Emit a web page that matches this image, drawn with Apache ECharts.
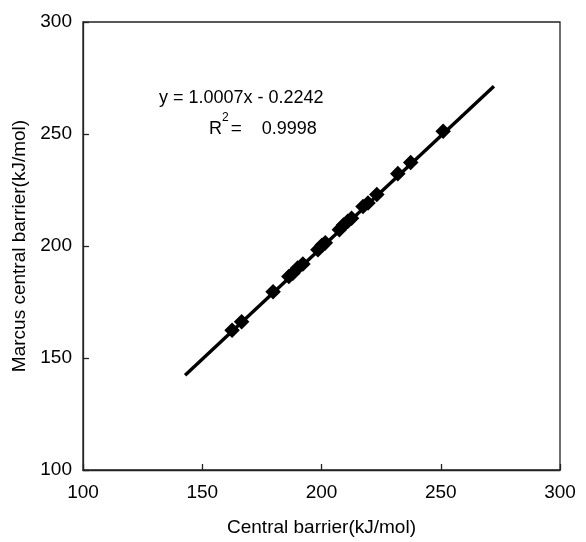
<!DOCTYPE html>
<html>
<head>
<meta charset="utf-8">
<script src="https://cdn.jsdelivr.net/npm/echarts@6/dist/echarts.min.js"></script>
<style>html,body{margin:0;padding:0;background:#fff}#c{width:586px;height:542px}</style>
</head>
<body>
<div id="c"></div>
<script>
var centralBarrier = [162.5, 166.5, 179.7, 186.3, 188.0, 190.0, 192.2, 198.5, 200.2, 201.6, 207.5, 209.2, 211.0, 212.6, 217.4, 219.5, 223.2, 232.0, 237.4, 251.0];
var marcusBarrier  = [162.4, 166.2, 179.6, 186.4, 187.8, 190.2, 192.0, 198.3, 200.3, 201.4, 207.3, 209.4, 211.0, 212.4, 217.6, 219.2, 223.0, 232.3, 237.3, 251.2];
var fitX = [142.8, 272.3];
var fitY = [142.3, 271.3];
var xTicks = [100, 150, 200, 250, 300];
var yTicks = [100, 150, 200, 250, 300];
var equationText = 'y = 1.0007x - 0.2242';
var r2Text = '0.9998';

var chart = echarts.init(document.getElementById('c'), null, {renderer: 'canvas'});
var font = '"Liberation Sans", Arial, sans-serif';
var pts = centralBarrier.map(function (v, i) { return [v, marcusBarrier[i]]; });
var fit = fitX.map(function (v, i) { return [v, fitY[i]]; });

chart.setOption({
  animation: false,
  backgroundColor: '#fff',
  grid: {left: 83, right: 26, top: 22, bottom: 71, show: true, borderColor: '#222', borderWidth: 1.3, backgroundColor: 'transparent'},
  xAxis: {
    type: 'value', min: xTicks[0], max: xTicks[xTicks.length - 1], interval: 50,
    name: 'Central barrier(kJ/mol)', nameLocation: 'middle', nameGap: 48,
    nameTextStyle: {fontFamily: font, fontSize: 19, color: '#000'},
    axisLine: {show: true, lineStyle: {color: '#222', width: 1.3}},
    axisTick: {show: true, inside: true, length: 6, lineStyle: {color: '#222', width: 1.3}},
    axisLabel: {fontFamily: font, fontSize: 19, color: '#000', margin: 13},
    splitLine: {show: false}
  },
  yAxis: {
    type: 'value', min: yTicks[0], max: yTicks[yTicks.length - 1], interval: 50,
    name: 'Marcus central barrier(kJ/mol)', nameLocation: 'middle', nameGap: 54, nameRotate: 90,
    nameTextStyle: {fontFamily: font, fontSize: 19, color: '#000'},
    axisLine: {show: true, lineStyle: {color: '#222', width: 1.3}},
    axisTick: {show: true, inside: true, length: 6, lineStyle: {color: '#222', width: 1.3}},
    axisLabel: {fontFamily: font, fontSize: 19, color: '#000', margin: 11},
    splitLine: {show: false}
  },
  series: [
    {
      type: 'line', data: fit, symbol: 'none', z: 2,
      lineStyle: {color: '#000', width: 3.4}
    },
    {
      type: 'scatter', data: pts, symbol: 'rect', symbolSize: 11, symbolRotate: 45, z: 3,
      itemStyle: {color: '#000', opacity: 1}
    }
  ],
  graphic: [
    {
      type: 'text', left: 159, top: 89,
      style: {text: equationText, font: '18px ' + font, fill: '#000'}
    },
    {
      type: 'text', left: 209, top: 112,
      style: {
        text: '{b|R}{s|2}{e|=}{n|' + r2Text + '}',
        rich: {
          b: {fontFamily: font, fontSize: 18, fill: '#000', color: '#000', verticalAlign: 'bottom', lineHeight: 26},
          e: {fontFamily: font, fontSize: 19, fill: '#000', color: '#000', verticalAlign: 'bottom', lineHeight: 26, padding: [0, 0, 0, 2]},
          n: {fontFamily: font, fontSize: 18, fill: '#000', color: '#000', verticalAlign: 'bottom', lineHeight: 26, padding: [0, 0, 0, 20]},
          s: {fontFamily: font, fontSize: 12, fill: '#000', color: '#000', verticalAlign: 'top', lineHeight: 26, padding: [0, 0, 12, 0]}
        }
      }
    }
  ]
});
</script>
</body>
</html>
